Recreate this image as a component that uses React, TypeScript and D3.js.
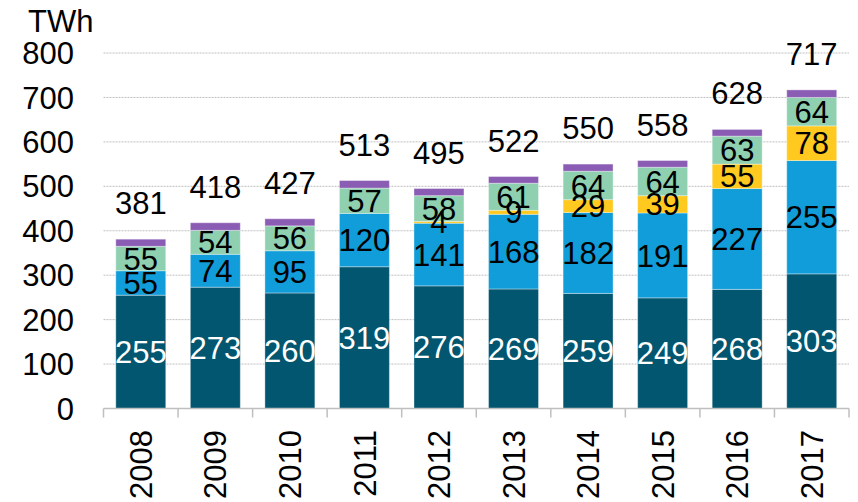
import React from "react";
import * as d3 from "d3";

const years = ["2008", "2009", "2010", "2011", "2012", "2013", "2014", "2015", "2016", "2017"];
const seriesA = [255, 273, 260, 319, 276, 269, 259, 249, 268, 303];
const seriesB = [55, 74, 95, 120, 141, 168, 182, 191, 227, 255];
const seriesC = [0, 0, 0, 0, 4, 9, 29, 39, 55, 78];
const seriesD = [55, 54, 56, 57, 58, 61, 64, 64, 63, 64];
const totals = [381, 418, 427, 513, 495, 522, 550, 558, 628, 717];
const seriesE = totals.map((t, i) => t - seriesA[i] - seriesB[i] - seriesC[i] - seriesD[i]);
const yTicks = [0, 100, 200, 300, 400, 500, 600, 700, 800];

const series = [
  { key: "a", values: seriesA, color: "#03566F", label: "#ffffff", show: true },
  { key: "b", values: seriesB, color: "#109DD9", label: "#000000", show: true },
  { key: "c", values: seriesC, color: "#FFC920", label: "#000000", show: true },
  { key: "d", values: seriesD, color: "#8ED0B0", label: "#000000", show: true },
  { key: "e", values: seriesE, color: "#8A5CB3", label: "#000000", show: false },
];

const W = 858;
const H = 502;
const left = 103.5;
const right = 849;
const y0 = 408.5;
const yTop = 53;
const font = "'Liberation Sans', Arial, sans-serif";
const fs = 31;

export default function App() {
  const x = d3.scaleBand<string>().domain(years).range([left, right]).paddingInner(0.33).paddingOuter(0.165);
  const y = d3.scaleLinear().domain([0, 800]).range([y0, yTop]);
  const step = x.step();

  const stacks = years.map((yr, i) => {
    let acc = 0;
    return series.map((s) => {
      const v = s.values[i];
      const seg = { s, v, lo: acc, hi: acc + v };
      acc += v;
      return seg;
    });
  });

  return (
    <svg width={W} height={H} style={{ position: "absolute", left: 0, top: 0, background: "#fff" }} fontFamily={font}>
      {yTicks.filter((t) => t > 0).map((t) => (
        <line key={t} x1={left} x2={right} y1={y(t)} y2={y(t)} stroke="#BFBFBF" strokeWidth={1} strokeDasharray="2,1" />
      ))}
      {yTicks.map((t) => (
        <text key={t} x={74} y={y(t)} dy="0.36em" textAnchor="end" fontSize={fs} fill="#000">
          {t}
        </text>
      ))}
      <text x={28} y={32} fontSize={fs} fill="#000">TWh</text>
      {years.map((yr, i) => (
        <g key={yr}>
          {stacks[i].map((seg) =>
            seg.v > 0 ? (
              <rect
                key={seg.s.key}
                x={x(yr)!}
                width={x.bandwidth()}
                y={y(seg.hi)}
                height={y(seg.lo) - y(seg.hi)}
                fill={seg.s.color}
                stroke="rgba(255,255,255,0.35)"
                strokeWidth={1}
              />
            ) : null
          )}
        </g>
      ))}
      {years.map((yr, i) => (
        <g key={"l" + yr}>
          {stacks[i].map((seg) =>
            seg.v > 0 && seg.s.show ? (
              <text
                key={seg.s.key}
                x={x(yr)! + x.bandwidth() / 2}
                y={y((seg.lo + seg.hi) / 2)}
                dy="0.36em"
                textAnchor="middle"
                fontSize={fs}
                fill={seg.s.label}
              >
                {seg.v}
              </text>
            ) : null
          )}
          <text x={x(yr)! + x.bandwidth() / 2} y={y(totals[i]) - 25} textAnchor="middle" fontSize={fs} fill="#000">
            {totals[i]}
          </text>
        </g>
      ))}
      <line x1={left} x2={right} y1={y0} y2={y0} stroke="#BFBFBF" strokeWidth={1.5} />
      {d3.range(years.length + 1).map((k) => (
        <line key={k} x1={left + k * step} x2={left + k * step} y1={y0} y2={y0 + 9} stroke="#BFBFBF" strokeWidth={1.5} />
      ))}
      {years.map((yr) => (
        <text
          key={"x" + yr}
          transform={`translate(${x(yr)! + x.bandwidth() / 2},430) rotate(-90)`}
          dy="0.36em"
          textAnchor="end"
          fontSize={fs}
          fill="#000"
        >
          {yr}
        </text>
      ))}
    </svg>
  );
}
